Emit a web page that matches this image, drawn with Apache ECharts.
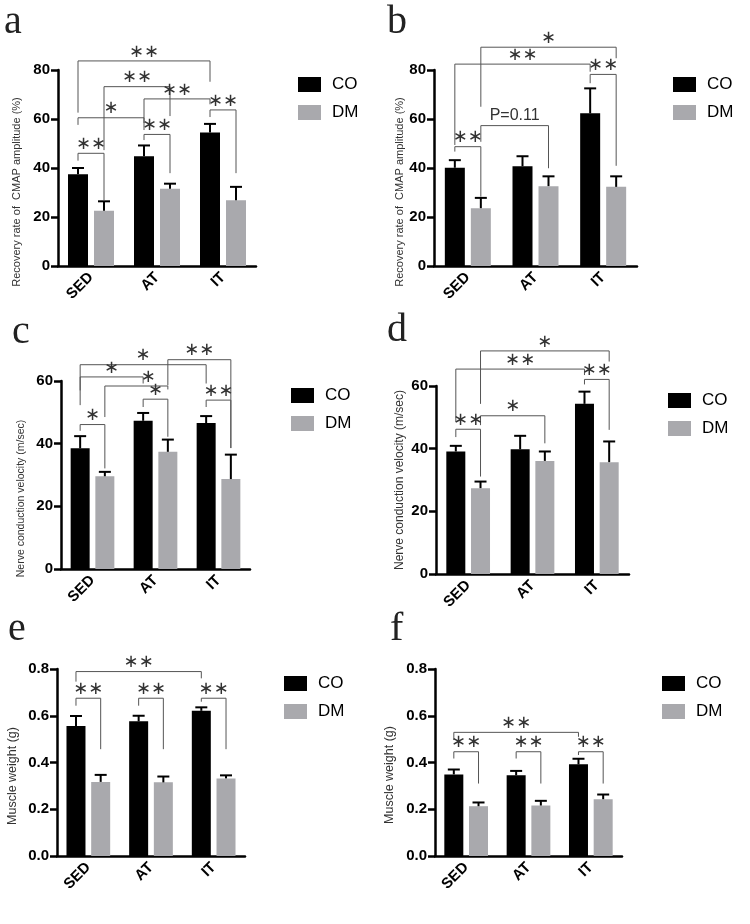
<!DOCTYPE html>
<html>
<head>
<meta charset="utf-8">
<script src="https://cdn.jsdelivr.net/npm/echarts@6/dist/echarts.min.js"></script>
<style>
    html, body { margin: 0; padding: 0; background: #fff; }
    #main { width: 750px; height: 924px; }
</style>
</head>
<body>
<div id="main"></div>
<script>
// 组别
var categories = ['SED', 'AT', 'IT'];

// a. CMAP amplitude (1)
var aCO = [37.5, 44.8, 54.5];
var aCOsd = [2.5, 4.4, 3.5];
var aDM = [22.6, 31.5, 26.8];
var aDMsd = [3.8, 2.1, 5.5];
// 显著性标记: [组1, 系列1, 组2, 系列2, 横线高度, 左脚底, 右脚底]
var aSig = [
    [0, 0, 2, 0, 83.7, 62.6, 75.2],
    [0, 1, 1, 1, 73.2, 47.3, 61.2],
    [1, 0, 2, 0, 68.2, 58.4, 66.0],
    [0, 0, 1, 0, 60.5, 57.6, 55.5],
    [1, 0, 1, 1, 53.7, 51.4, 37.9],
    [2, 0, 2, 1, 63.7, 60.8, 37.9],
    [0, 0, 0, 1, 46.0, 43.0, 26.9]
];
var aSigText = ['**', '**', '**', '*', '**', '**', '**'];

// b. CMAP amplitude (2)
var bCO = [40.1, 40.7, 62.3];
var bCOsd = [3.1, 4.1, 10.2];
var bDM = [23.6, 32.6, 32.3];
var bDMsd = [4.2, 4.0, 4.3];
var bSig = [
    [0, 1, 2, 1, 89.3, 65.0, 84.8],
    [0, 0, 2, 0, 82.4, 49.4, 79.3],
    [2, 0, 2, 1, 78.2, 74.6, 40.9],
    [0, 1, 1, 1, 57.3, 50.7, 39.9],
    [0, 0, 0, 1, 48.7, 46.7, 28.3]
];
var bSigText = ['*', '**', '**', 'P=0.11', '**'];

// c. nerve conduction velocity (1)
var cCO = [38.5, 47.3, 46.6];
var cCOsd = [3.9, 2.5, 2.2];
var cDM = [29.6, 37.4, 28.7];
var cDMsd = [1.4, 3.9, 7.8];
var cSig = [
    [0, 0, 2, 0, 65.2, 52.3, 59.2],
    [1, 1, 2, 1, 66.8, 58.6, 38.6],
    [0, 0, 1, 0, 61.3, 57.0, 59.2],
    [0, 1, 1, 1, 58.4, 48.5, 57.3],
    [1, 0, 1, 1, 54.2, 51.7, 42.2],
    [2, 0, 2, 1, 53.9, 51.7, 38.6],
    [0, 0, 0, 1, 46.1, 44.1, 32.1]
];
var cSigText = ['*', '**', '*', '*', '*', '**', '*'];

// d. nerve conduction velocity (2)
var dCO = [39.1, 39.8, 54.3];
var dCOsd = [1.8, 4.3, 3.9];
var dDM = [27.4, 36.1, 35.7];
var dDMsd = [2.1, 3.0, 6.6];
var dSig = [
    [0, 1, 2, 1, 71.2, 54.3, 67.8],
    [0, 0, 2, 0, 65.4, 48.6, 63.5],
    [2, 0, 2, 1, 62.1, 60.5, 46.0],
    [0, 1, 1, 1, 50.5, 47.5, 41.7],
    [0, 0, 0, 1, 46.2, 43.7, 31.1]
];
var dSigText = ['*', '**', '**', '*', '**'];

// e. muscle weight (1)
var eCO = [0.556, 0.576, 0.621];
var eCOsd = [0.043, 0.024, 0.015];
var eDM = [0.317, 0.315, 0.332];
var eDMsd = [0.030, 0.025, 0.013];
var eSig = [
    [0, 0, 2, 0, 0.789, 0.746, 0.760],
    [0, 0, 0, 1, 0.675, 0.643, 0.457],
    [1, 0, 1, 1, 0.675, 0.643, 0.457],
    [2, 0, 2, 1, 0.675, 0.660, 0.457]
];
var eSigText = ['**', '**', '**', '**'];

// f. muscle weight (2)
var fCO = [0.349, 0.345, 0.392];
var fCOsd = [0.021, 0.019, 0.024];
var fDM = [0.213, 0.216, 0.243];
var fDMsd = [0.016, 0.020, 0.020];
var fSig = [
    [0, 0, 2, 0, 0.529, 0.496, 0.510],
    [0, 0, 0, 1, 0.446, 0.417, 0.310],
    [1, 0, 1, 1, 0.446, 0.417, 0.310],
    [2, 0, 2, 1, 0.446, 0.432, 0.310]
];
var fSigText = ['**', '**', '**', '**'];

var GRAY = '#a9a9ad';
var GAP = 0.3;

// 各面板的布局
var panels = [
    { letter: 'a', lx: 4, ly: 2, grid: { left: 58, top: 70, width: 198, height: 196 }, max: 80, interval: 20, dec: 0, bw: 20,
      name: 'Recovery rate of  CMAP amplitude (%)', nameSize: 11, nameGap: 36, namePad: 48, legend: [298, 76],
      co: aCO, coSd: aCOsd, dm: aDM, dmSd: aDMsd, sig: aSig, sigText: aSigText, shift: {} },
    { letter: 'b', lx: 387, ly: 2, grid: { left: 434, top: 70, width: 203, height: 196 }, max: 80, interval: 20, dec: 0, bw: 20,
      name: 'Recovery rate of  CMAP amplitude (%)', nameSize: 11, nameGap: 29, namePad: 48, legend: [673, 76],
      co: bCO, coSd: bCOsd, dm: bDM, dmSd: bDMsd, sig: bSig, sigText: bSigText, shift: {} },
    { letter: 'c', lx: 12, ly: 312, grid: { left: 61, top: 381, width: 189, height: 188 }, max: 60, interval: 20, dec: 0, bw: 19,
      name: 'Nerve conduction velocity (m/sec)', nameSize: 10.5, nameGap: 34, namePad: 47, legend: [291, 387],
      co: cCO, coSd: cCOsd, dm: cDM, dmSd: cDMsd, sig: cSig, sigText: cSigText, shift: { 3: 12 } },
    { letter: 'd', lx: 387, ly: 310, grid: { left: 436, top: 386, width: 193, height: 188 }, max: 60, interval: 20, dec: 0, bw: 19,
      name: 'Nerve conduction velocity (m/sec)', nameSize: 12, nameGap: 30, namePad: 0, legend: [668, 392],
      co: dCO, coSd: dCOsd, dm: dDM, dmSd: dDMsd, sig: dSig, sigText: dSigText, shift: {} },
    { letter: 'e', lx: 8, ly: 609, grid: { left: 57, top: 669, width: 188, height: 187 }, max: 0.8, interval: 0.2, dec: 1, bw: 19,
      name: 'Muscle weight (g)', nameSize: 12.5, nameGap: 38, namePad: 27, legend: [284, 675],
      co: eCO, coSd: eCOsd, dm: eDM, dmSd: eDMsd, sig: eSig, sigText: eSigText, shift: {} },
    { letter: 'f', lx: 390, ly: 609, grid: { left: 435, top: 669, width: 187, height: 187 }, max: 0.8, interval: 0.2, dec: 1, bw: 19,
      name: 'Muscle weight (g)', nameSize: 12.5, nameGap: 39, namePad: 25, legend: [662, 675],
      co: fCO, coSd: fCOsd, dm: fDM, dmSd: fDMsd, sig: fSig, sigText: fSigText, shift: {} }
];

// 误差线
function errRender(bw) {
    return function (params, api) {
        var off = bw * (1 + GAP) / 2;
        var base = api.coord([api.value(0), api.value(2)]);
        var top = api.coord([api.value(0), api.value(3)]);
        var x = base[0] + (api.value(1) ? off : -off);
        return {
            type: 'group',
            children: [
                { type: 'line', shape: { x1: x, y1: base[1], x2: x, y2: top[1] }, style: { stroke: '#000', lineWidth: 2 } },
                { type: 'line', shape: { x1: x - 6, y1: top[1], x2: x + 6, y2: top[1] }, style: { stroke: '#000', lineWidth: 2 } }
            ]
        };
    };
}

// 显著性括号
function sigRender(bw, texts, shift) {
    return function (params, api) {
        var off = bw * (1 + GAP) / 2;
        var xa = api.coord([api.value(0), 0])[0] + (api.value(1) ? off : -off);
        var xb = api.coord([api.value(2), 0])[0] + (api.value(3) ? off : -off);
        var yt = api.coord([0, api.value(4)])[1];
        var yl = api.coord([0, api.value(5)])[1];
        var yr = api.coord([0, api.value(6)])[1];
        var t = texts[params.dataIndex];
        var isStar = t.charAt(0) === '*';
        return {
            type: 'group',
            children: [
                { type: 'polyline', shape: { points: [[xa, yl], [xa, yt], [xb, yt], [xb, yr]] },
                  style: { stroke: '#555', fill: 'none', lineWidth: 1 } },
                { type: 'text', x: (xa + xb) / 2 + (shift[params.dataIndex] || 0), y: yt - (isStar ? 9 : 10),
                  style: {
                      text: isStar ? t.replace(/\*/g, '\u2217') : t,
                      align: 'center', verticalAlign: 'middle',
                      font: isStar ? '18px "DejaVu Sans"' : '16px "Liberation Sans"',
                      fill: '#333'
                  } }
            ]
        };
    };
}

var grids = [], xAxes = [], yAxes = [], series = [], legends = [], graphics = [];

panels.forEach(function (p, i) {
    grids.push(p.grid);

    xAxes.push({
        type: 'category', gridIndex: i, data: categories,
        axisLine: { lineStyle: { color: '#000', width: 2.5 } },
        axisTick: { alignWithLabel: true, length: 6, lineStyle: { color: '#000', width: 2.5 } },
        axisLabel: { rotate: 45, margin: 9, color: '#000', fontSize: 15, fontWeight: 'bold', fontFamily: 'Liberation Sans' }
    });

    yAxes.push({
        type: 'value', gridIndex: i, min: 0, max: p.max, interval: p.interval,
        name: p.name, nameLocation: 'middle', nameGap: p.nameGap,
        nameTextStyle: { fontSize: p.nameSize, color: '#333', fontFamily: 'Liberation Sans', padding: [0, p.namePad, 0, 0] },
        axisLine: { show: true, lineStyle: { color: '#000', width: 2.5 } },
        axisTick: { show: true, length: 7, lineStyle: { color: '#000', width: 2.5 } },
        splitLine: { show: false },
        axisLabel: {
            margin: 8, color: '#000', fontSize: 15, fontWeight: 'bold', fontFamily: 'Liberation Sans',
            formatter: function (v) { return v.toFixed(p.dec); }
        }
    });

    series.push({
        name: 'CO', type: 'bar', xAxisIndex: i, yAxisIndex: i, data: p.co,
        barWidth: p.bw, barGap: '30%', itemStyle: { color: '#000' }
    });
    series.push({
        name: 'DM', type: 'bar', xAxisIndex: i, yAxisIndex: i, data: p.dm,
        barWidth: p.bw, barGap: '30%', itemStyle: { color: GRAY }
    });

    var errData = [];
    for (var k = 0; k < categories.length; k++) {
        errData.push([k, 0, p.co[k], p.co[k] + p.coSd[k]]);
        errData.push([k, 1, p.dm[k], p.dm[k] + p.dmSd[k]]);
    }
    series.push({
        type: 'custom', xAxisIndex: i, yAxisIndex: i, data: errData,
        encode: { x: 0, y: 3 }, renderItem: errRender(p.bw), z: 5, silent: true
    });
    series.push({
        type: 'custom', xAxisIndex: i, yAxisIndex: i, data: p.sig,
        encode: { x: 0, y: 4 }, renderItem: sigRender(p.bw, p.sigText, p.shift), clip: false, z: 6, silent: true
    });

    legends.push({
        data: ['CO', 'DM'], orient: 'vertical', left: p.legend[0], top: p.legend[1],
        padding: 0, icon: 'rect', itemWidth: 23, itemHeight: 15, itemGap: 11, selectedMode: false,
        textStyle: { fontSize: 17, color: '#000', fontFamily: 'Liberation Sans', padding: [0, 0, 0, 6] }
    });

    graphics.push({
        type: 'text', left: p.lx, top: p.ly,
        style: { text: p.letter, font: '40px "Liberation Serif"', fill: '#222' }
    });
});

var chart = echarts.init(document.getElementById('main'));
chart.setOption({
    animation: false,
    backgroundColor: '#fff',
    grid: grids,
    xAxis: xAxes,
    yAxis: yAxes,
    legend: legends,
    graphic: graphics,
    series: series
});
</script>
</body>
</html>
